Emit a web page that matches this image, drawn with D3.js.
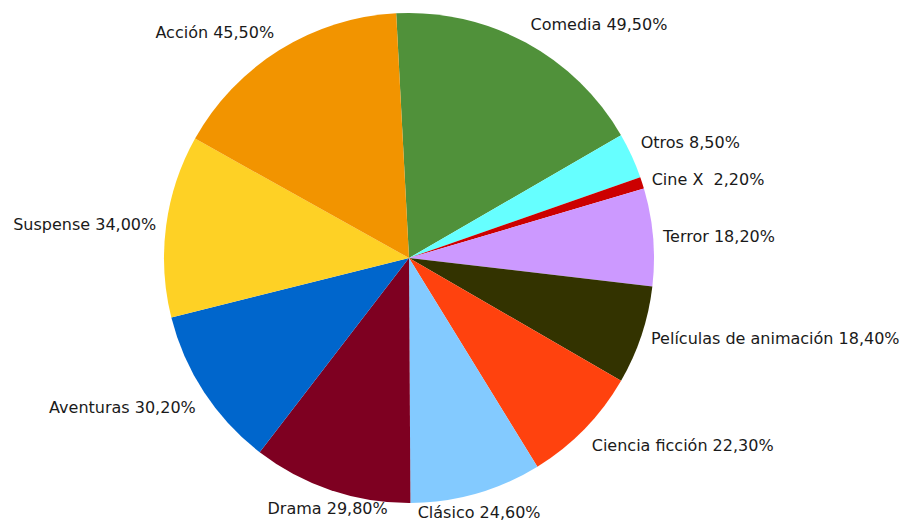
<!DOCTYPE html>
<html>
<head>
<meta charset="utf-8">
<script src="https://cdn.jsdelivr.net/npm/d3@7"></script>
<style>
  body { margin: 0; background: #fff; }
  text { font-family: "DejaVu Sans", sans-serif; font-size: 16px; fill: #1a1a1a; white-space: pre; }
</style>
</head>
<body>
<div id="chart"></div>
<script>
const w = 904;
const h = 522;

// Datos del gráfico
const categories = ["Comedia", "Otros", "Cine X ", "Terror", "Películas de animación",
  "Ciencia ficción", "Clásico", "Drama", "Aventuras", "Suspense", "Acción"];
const values = [49.5, 8.5, 2.2, 18.2, 18.4, 22.3, 24.6, 29.8, 30.2, 34.0, 45.5];
const colors = ["#50913a", "#66ffff", "#cc0000", "#cc99ff", "#333300",
  "#ff420e", "#83caff", "#7e0021", "#0066cc", "#fed125", "#f29400"];

const cx = 409;
const cy = 258;
const radius = 245;
const offset = -3 * Math.PI / 180;

const svg = d3.select("#chart").append("svg")
  .attr("width", w)
  .attr("height", h);

const g = svg.append("g").attr("transform", `translate(${cx},${cy})`);

const pie = d3.pie()
  .sort(null)
  .startAngle(offset)
  .endAngle(2 * Math.PI + offset);

const arcs = pie(values);
const arc = d3.arc().innerRadius(0).outerRadius(radius);

g.selectAll("path")
  .data(arcs)
  .join("path")
  .attr("d", arc)
  .attr("fill", (d, i) => colors[i]);

// Etiquetas fuera del círculo
const fmt = v => v.toFixed(2).replace(".", ",") + "%";

g.selectAll("text")
  .data(arcs)
  .join("text")
  .each(function(d, i) {
    const a = (d.startAngle + d.endAngle) / 2;
    const s = Math.sin(a), c = Math.cos(a);
    const px = (radius + 10) * s;
    const py = -(radius + 10) * c;
    let anchor = "middle";
    if (s > 0.4) anchor = "start";
    else if (s < -0.4) anchor = "end";
    let by = py + 5.5;
    if (c > 0.36) by = py - 3.8;
    else if (c < -0.36) by = py + 14.8;
    d3.select(this)
      .attr("x", px)
      .attr("y", by)
      .attr("text-anchor", anchor)
      .text(categories[i] + " " + fmt(values[i]));
  });
</script>
</body>
</html>
